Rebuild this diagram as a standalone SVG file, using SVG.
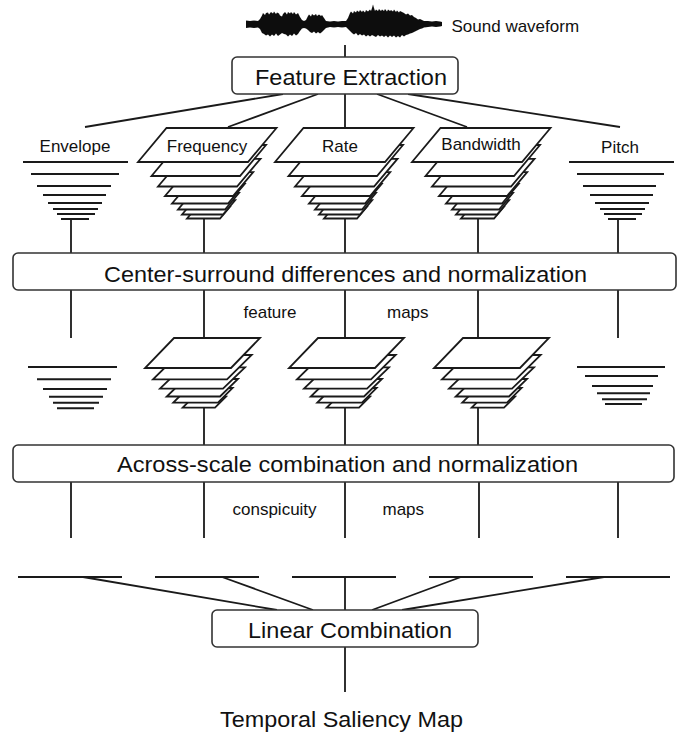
<svg xmlns="http://www.w3.org/2000/svg" xmlns:xlink="http://www.w3.org/1999/xlink" width="683" height="745" viewBox="0 0 683 745">
<style>
.ln{stroke:#1a1a1a;stroke-width:1.8;fill:none}
.hl{stroke:#1a1a1a;stroke-width:2;fill:none}
.pl{fill:#fff;stroke:#1a1a1a;stroke-width:1.8;stroke-linejoin:miter}
.box{fill:#fff;stroke:#333;stroke-width:1.6}
.big{font-family:"Liberation Sans",Arial,sans-serif;font-size:21.5px;fill:#111}
.sm{font-family:"Liberation Sans",Arial,sans-serif;font-size:17px;fill:#111}
.mid{text-anchor:middle}
</style>
<defs>
<filter id="soft" x="-5%" y="-30%" width="110%" height="160%"><feGaussianBlur stdDeviation="0.6"/></filter>
<g id="stackA">
<polygon class="pl" points="187,218.5 220,218.5 229.8,206.9 196.8,206.9"/>
<polygon class="pl" points="182,214.5 223,214.5 235.2,200.1 194.2,200.1"/>
<polygon class="pl" points="178,209.5 225,209.5 239,193 192,193"/>
<polygon class="pl" points="172,203.5 228,203.5 244.7,183.9 188.7,183.9"/>
<polygon class="pl" points="165,196 233,196 253.2,172.2 185.2,172.2"/>
<polygon class="pl" points="158,186.5 237,186.5 260.5,158.8 181.5,158.8"/>
<polygon class="pl" points="151.5,176 240,176 266,145 177.5,145"/>
<polygon class="pl" points="138,162 248,162 276.5,128 166.5,128"/>
</g>
<g id="stackB">
<polygon class="pl" points="182.7,407.7 215,407.7 226,396.7 193.7,396.7"/>
<polygon class="pl" points="173.3,402.6 218,402.6 232.6,388 187.9,388"/>
<polygon class="pl" points="166.7,396.5 220,396.5 238,379 184.7,379"/>
<polygon class="pl" points="160,388.7 223,388.7 245,367.3 182,367.3"/>
<polygon class="pl" points="153,379.3 227,379.3 251.7,355 177.7,355"/>
<polygon class="pl" points="145,368 231,368 260,338 174,338"/>
</g>
</defs>
<rect width="683" height="745" fill="#fff"/>

<g id="connectors">
<line class="ln" x1="345" y1="45" x2="345" y2="57"/>
<line class="ln" x1="283" y1="94" x2="85" y2="127"/>
<line class="ln" x1="318" y1="94" x2="228" y2="127"/>
<line class="ln" x1="345" y1="94" x2="345" y2="128"/>
<line class="ln" x1="377" y1="94" x2="467" y2="127"/>
<line class="ln" x1="408" y1="94" x2="620" y2="127"/>
<path class="ln" d="M71 219V253M204 218.5V253M345 218.5V253M478 218.5V253M618 218.5V253"/>
<path class="ln" d="M71 290V338M204 290V338M345 290V338M478 290V338M618 290V338"/>
<path class="ln" d="M204 407.7V445M345 407.7V445M478 407.7V445"/>
<path class="ln" d="M71 482V538M204 482V538M345 482V538M479 482V538M618 482V538"/>
<line class="ln" x1="83" y1="577" x2="277" y2="610"/>
<line class="ln" x1="222" y1="577" x2="313" y2="610"/>
<line class="ln" x1="345" y1="577" x2="345" y2="610"/>
<line class="ln" x1="461" y1="577" x2="372" y2="610"/>
<line class="ln" x1="604" y1="577" x2="402" y2="610"/>
<line class="ln" x1="345" y1="647" x2="345" y2="692"/>
</g>

<g id="waveform">
<polygon fill="#111" filter="url(#soft)" points="246,20.5 250,21 254,20.5 258,21 260,19 262,15.5 263,13 265,15 266,13 268,12.5 269,14.5 271,12 273,13.5 274,11.5 276,14 277,12.5 279,13.5 280,15.5 282,16.5 283,14 285,12 287,14.5 288,12 290,13.5 291,12 293,14 294,12 296,14.5 298,13 300,17 302,20 304,21 306,20 308,16 309,14.5 311,16.5 312,14 314,15.5 316,14 317,16 319,14.5 321,16 322,15 324,18 326,21 330,21.5 334,21 338,21.5 342,21 346,21 348,18 350,13 351,11.5 353,13.5 354,11 356,12.5 357,10.5 359,12 360,10 362,12 363,10.5 365,12.5 366,10 368,11.5 370,9.5 371,11 372,8 373,4.5 374,8 375,11 376,9.5 378,11 379,9 381,11 382,9.5 384,11 385,9 387,11.5 388,9.5 390,11 391,10 393,11.5 394,9.5 396,12 397,10.5 399,12.5 400,11 402,12 404,13 406,14.5 408,13.5 410,15.5 412,15 414,17 416,18 418,19.5 420,19 422,20 424,21 428,21 432,21.5 436,21 440,21.5 442,22 442,26 440,26.5 436,27 432,26.5 428,27 424,27.5 422,28.5 420,29 418,30 416,31 414,32 412,33 410,33.5 408,34.5 406,35 404,36.5 402,35 400,37.5 398,36 396,37.5 394,35.5 392,37 390,35.5 388,37.5 386,35.5 384,37 382,35.5 380,36.5 378,35 376,37 374,36 372,35 370,36.5 368,35 366,36.5 364,34.5 362,35.5 360,34 358,35.5 356,33 354,34.5 352,33 350,31 348,29 346,27 342,27.5 338,27 334,27.5 330,27 326,28 324,30 322,32 320,33.5 318,32 316,33.5 314,31.5 312,33 310,32 308,30 306,28.5 304,28 302,28.5 300,31 298,34 296,35.5 294,33.5 292,36 290,34.5 288,36.5 286,34.5 284,34 282,33 280,34.5 278,36 276,33.5 274,36 272,34.5 270,36.5 268,34.5 266,35.5 264,34 262,33 260,29 258,27.5 254,28 250,27.5 246,28"/>
<text class="sm" x="451.5" y="31.5">Sound waveform</text>
</g>

<g id="feature-extraction">
<rect class="box" x="232" y="57" width="226" height="37" rx="5"/>
<text class="big mid" x="351" y="85" style="font-size:22.5px" textLength="192" lengthAdjust="spacingAndGlyphs">Feature Extraction</text>
</g>

<g id="envelope-features">
<text class="sm mid" x="75" y="152">Envelope</text>
<path class="hl" d="M23 162H128M31 174H119M37 186H111M43 195H106M48 203H102M53 209H98M57 214H95M61 219H89"/>
</g>
<g id="frequency-features">
<use xlink:href="#stackA"/>
<text class="sm mid" x="207" y="151.5">Frequency</text>
</g>
<g id="rate-features">
<use xlink:href="#stackA" transform="translate(137,0)"/>
<text class="sm mid" x="340" y="151.5">Rate</text>
</g>
<g id="bandwidth-features">
<use xlink:href="#stackA" transform="translate(274,0)"/>
<text class="sm mid" x="481" y="150">Bandwidth</text>
</g>
<g id="pitch-features">
<text class="sm mid" x="620" y="152.5">Pitch</text>
<path class="hl" d="M569 162H674M577 174H664M583 186H656M590 195H653M595 203H649M600 209H645M604 214H642M608 219H636"/>
</g>

<g id="center-surround">
<rect class="box" x="13" y="253" width="663" height="37" rx="5"/>
<text class="big mid" x="345.5" y="281.5" textLength="483" lengthAdjust="spacingAndGlyphs">Center-surround differences and normalization</text>
</g>
<g id="feature-maps-label">
<text class="sm" x="243.5" y="317.5">feature</text>
<text class="sm" x="387" y="317.5">maps</text>
</g>

<g id="envelope-maps">
<path class="hl" d="M28 367H117M37 379.3H111M43 389H107M49 396.7H103M53 402.7H99M57 408.3H94"/>
</g>
<g id="frequency-maps"><use xlink:href="#stackB"/></g>
<g id="rate-maps"><use xlink:href="#stackB" transform="translate(144,0)"/></g>
<g id="bandwidth-maps"><use xlink:href="#stackB" transform="translate(289,0)"/></g>
<g id="pitch-maps">
<path class="hl" d="M577 367H665M585 376H658M592 386H653M597 393.3H650M602 399.3H647M605 404H642"/>
</g>

<g id="across-scale">
<rect class="box" x="13" y="445" width="661" height="37" rx="5"/>
<text class="big mid" x="347.5" y="471.5" textLength="461" lengthAdjust="spacingAndGlyphs">Across-scale combination and normalization</text>
</g>
<g id="conspicuity-maps-label">
<text class="sm" x="232.5" y="515">conspicuity</text>
<text class="sm" x="382.5" y="515">maps</text>
</g>

<g id="conspicuity-envelope"><line class="ln" x1="18" y1="577" x2="122" y2="577"/></g>
<g id="conspicuity-frequency"><line class="ln" x1="155" y1="577" x2="259" y2="577"/></g>
<g id="conspicuity-rate"><line class="ln" x1="292" y1="577" x2="396" y2="577"/></g>
<g id="conspicuity-bandwidth"><line class="ln" x1="429" y1="577" x2="533" y2="577"/></g>
<g id="conspicuity-pitch"><line class="ln" x1="566" y1="577" x2="670" y2="577"/></g>

<g id="linear-combination">
<rect class="box" x="212" y="610" width="266" height="37" rx="5"/>
<text class="big mid" x="350" y="638" textLength="204" lengthAdjust="spacingAndGlyphs">Linear Combination</text>
</g>

<g id="temporal-saliency-map">
<text class="big mid" x="341.5" y="726.5" textLength="243" lengthAdjust="spacingAndGlyphs">Temporal Saliency Map</text>
</g>
</svg>
